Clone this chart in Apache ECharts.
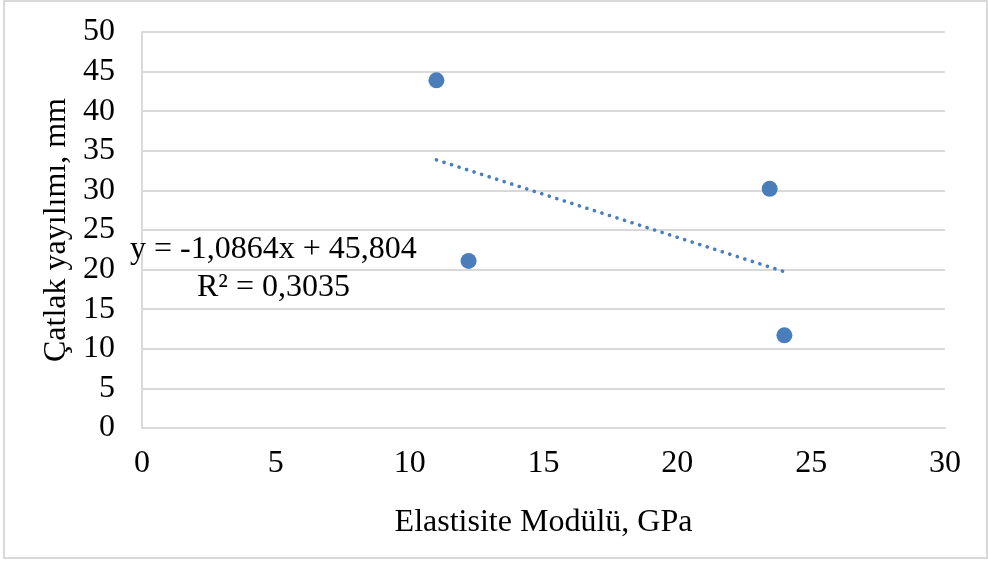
<!DOCTYPE html>
<html>
<head>
<meta charset="utf-8">
<script src="https://cdn.jsdelivr.net/npm/echarts@6/dist/echarts.min.js"></script>
<style>
  html, body { margin: 0; padding: 0; background: #fff; }
  #chart { width: 988px; height: 565px; }
</style>
</head>
<body>
<div id="chart"></div>
<script>
// olcum noktalari
const modulus = [11.0, 12.2, 23.45, 24.0];   // GPa
const crack = [43.9, 21.1, 30.2, 11.7];      // mm
const xTicks = [0, 5, 10, 15, 20, 25, 30];
const yTicks = [0, 5, 10, 15, 20, 25, 30, 35, 40, 45, 50];

// Excel lineer egilim cizgisi katsayilari
const slope = -1.0864;
const intercept = 45.804;
const r2 = 0.3035;

const fontFam = '"Liberation Serif", "DejaVu Serif", serif';
const fs = 32;
const blue = '#4a7ebb';

const points = modulus.map((x, i) => [x, crack[i]]);
const xMin = Math.min(...modulus), xMax = Math.max(...modulus);
const trend = [[xMin, slope * xMin + intercept], [xMax, slope * xMax + intercept]];

const fmt = (v, d) => v.toFixed(d).replace('.', ',');
const eqText = 'y = ' + fmt(slope, 4) + 'x + ' + fmt(intercept, 3);
const r2Text = 'R² = ' + fmt(r2, 4);

let chart = echarts.init(document.getElementById('chart'));
chart.setOption({
    animation: false,
    backgroundColor: '#fff',
    grid: { left: 142, right: 43, top: 32, bottom: 137 },
    xAxis: {
        type: 'value',
        min: xTicks[0],
        max: xTicks[xTicks.length - 1],
        interval: 5,
        name: 'Elastisite Modülü, GPa',
        nameLocation: 'middle',
        nameGap: 79,
        nameTextStyle: { fontFamily: fontFam, fontSize: fs, color: '#000' },
        axisLine: { show: true, lineStyle: { color: '#d9d9d9', width: 2 } },
        axisTick: { show: false },
        axisLabel: { fontFamily: fontFam, fontSize: fs, color: '#000', margin: 20 },
        splitLine: { show: false }
    },
    yAxis: {
        type: 'value',
        min: yTicks[0],
        max: yTicks[yTicks.length - 1],
        interval: 5,
        name: 'Çatlak yayılımı, mm',
        nameLocation: 'middle',
        nameGap: 66,
        nameTextStyle: { fontFamily: fontFam, fontSize: fs, color: '#000' },
        axisLine: { show: true, lineStyle: { color: '#d9d9d9', width: 2 } },
        axisTick: { show: false },
        axisLabel: { fontFamily: fontFam, fontSize: fs, color: '#000', margin: 27 },
        splitLine: { show: true, lineStyle: { color: '#d9d9d9', width: 2 } }
    },
    graphic: [
        {
            type: 'rect',
            shape: { x: 4, y: 1, width: 983, height: 557 },
            style: { fill: 'none', stroke: '#d9d9d9', lineWidth: 2 },
            silent: true, z: -1
        },
        {
            type: 'text', left: 130, top: 234, z: 10,
            style: { text: eqText, font: fs + 'px ' + fontFam, fill: '#000' }
        },
        {
            type: 'text', left: 197, top: 272, z: 10,
            style: { text: r2Text, font: fs + 'px ' + fontFam, fill: '#000' }
        }
    ],
    series: [
        {
            type: 'line',
            data: trend,
            symbol: 'none',
            lineStyle: { color: blue, width: 3.6, type: [0.1, 7.8], cap: 'round', opacity: 1 },
            z: 2
        },
        {
            type: 'scatter',
            data: points,
            symbol: 'circle',
            symbolSize: 16,
            itemStyle: { color: blue, opacity: 1 },
            z: 3
        }
    ]
});
</script>
</body>
</html>
